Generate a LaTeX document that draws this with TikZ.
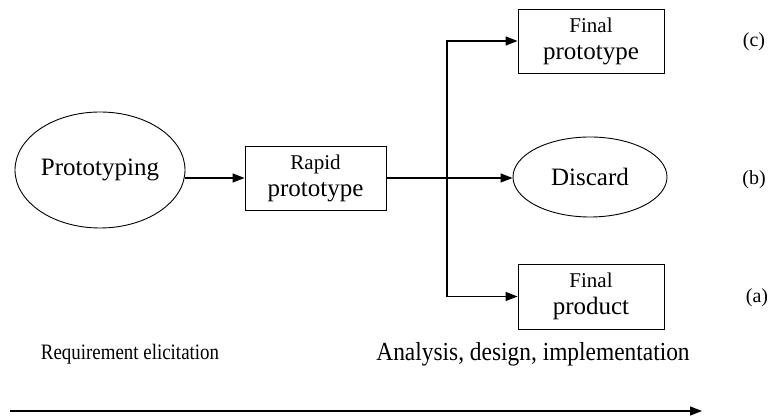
\documentclass[tikz,border=0pt]{standalone}
\usepackage{fontspec}
\setmainfont{Liberation Serif}
\usetikzlibrary{arrows.meta,shapes.geometric}

\tikzstyle{every node}+=[inner sep=0pt]
\tikzstyle{box}=[draw, line width=0.9pt, rectangle, minimum width=146pt, minimum height=64pt, align=center, font=\fontsize{25}{27}\selectfont]
\tikzstyle{oval}=[draw, line width=0.9pt, ellipse, font=\fontsize{25}{27}\selectfont]
\tikzstyle{arr}=[line width=1.3pt, -{Triangle[length=12pt,width=9pt]}]
\tikzstyle{lbl}=[font=\fontsize{20}{22}\selectfont]
\newcommand{\topline}[1]{{\fontsize{21}{27}\selectfont #1}}

\begin{document}
\begin{tikzpicture}[x=1pt, y=-1pt]
\useasboundingbox (0,0) rectangle (777,419);

\node [oval, minimum width=170pt, minimum height=116pt] (proto) at (100,170) {Prototyping};
\node [box, minimum width=141pt] (rapid) at (315.5,178) {\topline{Rapid}\\prototype};

\node [oval, minimum width=154pt, minimum height=80pt] (discard) at (590,177) {Discard};
\node [box] (fproto) at (591,41) {\topline{Final}\\prototype};
\node [box, minimum height=65pt] (fprod) at (591,296.5) {\topline{Final}\\product};

\coordinate (split) at (447,178);
\draw [arr] (proto.east |- rapid.west) -- (rapid.west);
\draw [line width=1.3pt] (rapid.east) -- (split);
\draw [arr] (split) -- (discard.west |- split);
\draw [arr] (split) |- (fproto.west);
\draw [arr] (split) |- (fprod.west);

\node [lbl] (c) at (754,42) {(c)};
\node [lbl] (b) at (754,180) {(b)};
\node [lbl] (a) at (757,298) {(a)};

\node (req) at (130,354) {\scalebox{0.86}[1]{\fontsize{22}{24}\selectfont Requirement elicitation}};
\node (ana) at (533,354) {\scalebox{0.9}[1]{\fontsize{26}{28}\selectfont Analysis, design, implementation}};

\coordinate (t0) at (10,411);
\coordinate (t1) at (702,411);
\draw [arr] (t0) -- (t1);
\end{tikzpicture}
\end{document}
